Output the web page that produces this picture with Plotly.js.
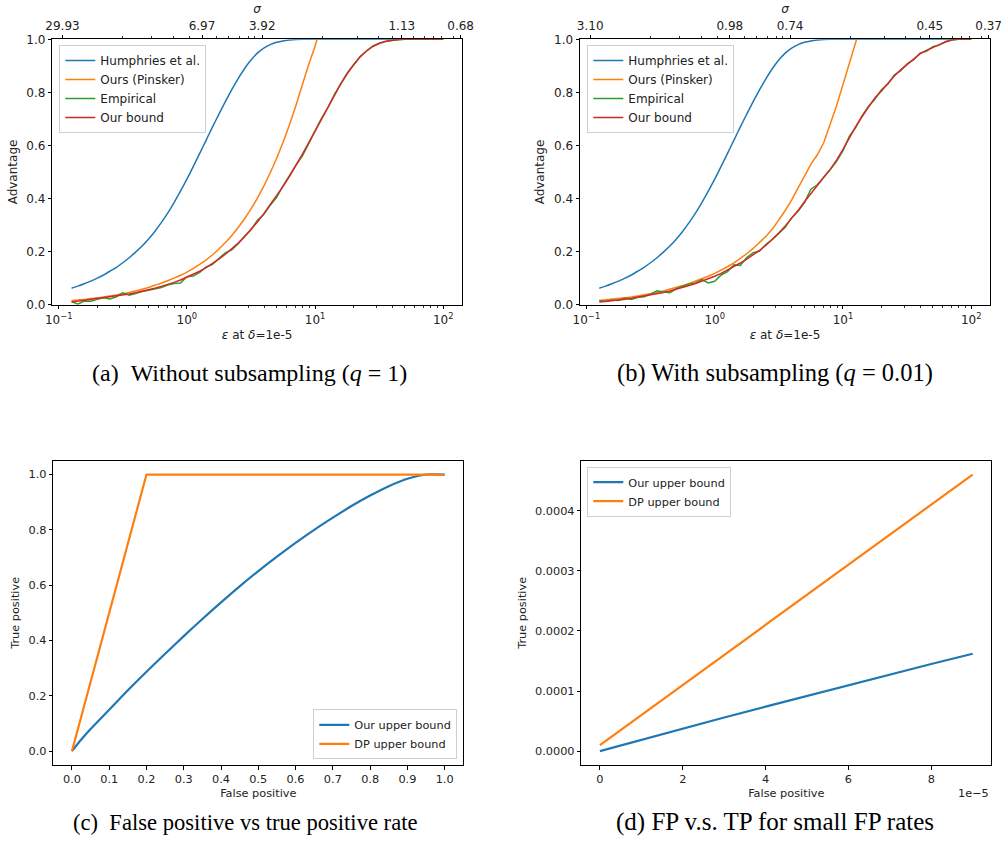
<!DOCTYPE html>
<html>
<head>
<meta charset="utf-8">
<script src="https://cdn.plot.ly/plotly-3.0.1.min.js"></script>
<style>html,body{margin:0;padding:0;background:#fff;}#chart{width:1003px;height:844px;}</style>
</head>
<body>
<div id="chart"></div>
<script>
// ---------- data: panels (a) and (b) ----------
const eps = [0.126,0.141,0.158,0.178,0.2,0.224,0.251,0.282,0.316,0.355,0.398,0.447,0.501,0.562,0.631,0.708,0.794,0.891,1.0,1.122,1.259,1.413,1.585,1.778,1.995,2.239,2.512,2.818,3.162,3.548,3.981,4.467,5.012,5.623,6.31,7.079,7.943,8.913,10,11.22,12.59,14.13,15.85,17.78,19.95,22.39,25.12,28.18,31.62,35.48,39.81,44.67,50.12,56.23,63.1,70.79,79.43,89.13,100];

const humphriesA = [0.062,0.070,0.079,0.089,0.100,0.112,0.126,0.141,0.158,0.177,0.198,0.221,0.247,0.276,0.309,0.345,0.385,0.428,0.473,0.521,0.570,0.620,0.670,0.718,0.765,0.810,0.852,0.890,0.922,0.948,0.967,0.980,0.989,0.994,0.997,0.999,1,1,1,1,1,1,1,1,1,1,1,1,1,1,1,1,1,1,1,1,1,1,1];
const pinskerA = [0.016,0.018,0.020,0.023,0.026,0.029,0.033,0.037,0.041,0.046,0.052,0.058,0.065,0.073,0.081,0.090,0.100,0.111,0.123,0.137,0.152,0.169,0.188,0.210,0.234,0.261,0.291,0.324,0.361,0.402,0.447,0.497,0.552,0.612,0.678,0.750,0.828,0.905,0.975,1.06];
const empiricalA = [0.012,0.002,0.014,0.013,0.020,0.026,0.022,0.030,0.045,0.036,0.042,0.050,0.054,0.060,0.065,0.074,0.080,0.082,0.105,0.108,0.122,0.142,0.152,0.175,0.195,0.207,0.230,0.258,0.282,0.318,0.340,0.375,0.405,0.448,0.488,0.525,0.560,0.605,0.655,0.702,0.743,0.792,0.830,0.872,0.903,0.934,0.955,0.974,0.984,0.993,0.996,0.999,1,1,1,1,1,1,1];
const boundA = [0.010,0.013,0.016,0.019,0.022,0.025,0.028,0.032,0.036,0.040,0.045,0.050,0.056,0.062,0.069,0.076,0.084,0.093,0.103,0.114,0.126,0.140,0.155,0.172,0.190,0.210,0.232,0.256,0.283,0.312,0.343,0.376,0.410,0.446,0.484,0.524,0.566,0.610,0.655,0.700,0.745,0.790,0.832,0.870,0.904,0.933,0.956,0.973,0.985,0.992,0.996,0.999,1,1,1,1,1,1,1];

const humphriesB = [0.062,0.070,0.079,0.089,0.100,0.112,0.126,0.141,0.158,0.177,0.198,0.221,0.247,0.276,0.309,0.345,0.385,0.428,0.473,0.521,0.570,0.620,0.670,0.718,0.765,0.810,0.852,0.890,0.922,0.948,0.967,0.980,0.989,0.994,0.997,0.999,1,1,1,1,1,1,1,1,1,1,1,1,1,1,1,1,1,1,1,1,1,1,1];
const pinskerB = [0.016,0.018,0.020,0.023,0.026,0.029,0.033,0.037,0.041,0.046,0.052,0.058,0.065,0.072,0.080,0.088,0.097,0.107,0.118,0.130,0.143,0.158,0.174,0.192,0.212,0.234,0.258,0.285,0.318,0.355,0.395,0.440,0.490,0.530,0.565,0.610,0.680,0.750,0.830,0.910,0.990,1.07];
const empiricalB = [0.016,0.012,0.018,0.016,0.025,0.020,0.028,0.030,0.040,0.052,0.048,0.045,0.060,0.068,0.078,0.082,0.095,0.082,0.088,0.112,0.125,0.150,0.148,0.178,0.196,0.202,0.228,0.246,0.268,0.292,0.328,0.352,0.385,0.435,0.452,0.478,0.508,0.540,0.580,0.635,0.668,0.712,0.748,0.775,0.810,0.832,0.865,0.882,0.908,0.922,0.948,0.955,0.972,0.978,0.992,0.997,1,1,1];
const boundB = [0.010,0.012,0.015,0.018,0.021,0.024,0.028,0.032,0.036,0.041,0.046,0.052,0.058,0.065,0.072,0.080,0.088,0.097,0.107,0.118,0.130,0.143,0.157,0.172,0.188,0.205,0.224,0.246,0.270,0.297,0.325,0.355,0.388,0.420,0.450,0.480,0.510,0.545,0.585,0.630,0.672,0.710,0.745,0.780,0.805,0.835,0.862,0.885,0.905,0.925,0.945,0.958,0.970,0.980,0.990,0.998,1,1,1];

const epsTicks = [0.1, 1, 10, 100];
const epsTickText = ["10<sup>−1</sup>","10<sup>0</sup>","10<sup>1</sup>","10<sup>2</sup>"];
const sigmaTickEps = [0.107, 1.312, 3.87, 47.5, 136.5];
const sigmaLabelsA = ["29.93","6.97","3.92","1.13","0.68"];
const sigmaLabelsB = ["3.10","0.98","0.74","0.45","0.37"];
const sigmaMinorEps = [0.315,0.533,0.782,1.054,1.702,2.123,2.559,3.027,3.388,11.43,21.23,30.97,40.09,58.08,71.61,83.18,96.6,119.1];
const advTicks = [0,0.2,0.4,0.6,0.8,1.0];

// ---------- data: panels (c) and (d) ----------
const fpC = [0,0.025,0.05,0.1,0.15,0.2,0.25,0.3,0.35,0.4,0.45,0.5,0.55,0.6,0.65,0.7,0.75,0.8,0.85,0.9,0.95,1.0];
const ourC = [0,0.042,0.080,0.150,0.220,0.287,0.352,0.416,0.478,0.538,0.596,0.651,0.703,0.753,0.800,0.844,0.886,0.924,0.958,0.985,1.0,1.0];
const fpDpC = [0,0.2,1.0];
const dpC = [0.00001,1,1];
const fpTicksC = [0,0.1,0.2,0.3,0.4,0.5,0.6,0.7,0.8,0.9,1.0];
const tpTicksC = [0,0.2,0.4,0.6,0.8,1.0];

const fpD = [0,1e-5,2e-5,3e-5,4e-5,5e-5,6e-5,7e-5,8e-5,9e-5];
const ourD = [0,1.9e-5,3.75e-5,5.6e-5,7.4e-5,9.2e-5,1.1e-4,1.28e-4,1.45e-4,1.62e-4];
const dpD = [1.0e-5,6.0e-5,1.1e-4,1.6e-4,2.1e-4,2.6e-4,3.1e-4,3.6e-4,4.1e-4,4.6e-4];
const fpTicksD = [0,2e-5,4e-5,6e-5,8e-5];
const fpTickTextD = ["0","2","4","6","8"];
const tpTicksD = [0,0.0001,0.0002,0.0003,0.0004];

const captions = ["(a)\u00a0\u00a0Without subsampling (<i>q</i>\u00a0=\u00a01)", "(b) With subsampling (<i>q</i>\u00a0=\u00a00.01)",
                  "(c)\u00a0\u00a0False positive vs true positive rate", "(d) FP v.s. TP for small FP rates"];

// ---------- styling ----------
const FONT = "DejaVu Sans";
const C = {blue:"#1f77b4", orange:"#ff7f0e", green:"#2ca02c", red:"#d62728"};
const W = 1003, H = 844;
const px = v => v / W, py = v => 1 - v / H;

const minorLog = [];
[0.1,1,10].forEach(d => { for (let k=2;k<=9;k++) minorLog.push(d*k); });

function baseAxis(extra, fs) {
  return Object.assign({
    showline:true, linecolor:"#000", linewidth:1, mirror:true,
    ticks:"outside", ticklen:3.5, tickwidth:1, tickcolor:"#000",
    showgrid:false, zeroline:false, automargin:false,
    tickfont:{family:FONT, size:fs, color:"#222"}
  }, extra);
}

const traces = [];
function addLine(x, y, name, color, xa, ya, legend, width, smooth) {
  traces.push({type:"scatter", mode:"lines", x:x, y:y, name:name, xaxis:xa, yaxis:ya,
    legend:legend, showlegend:true, hoverinfo:"skip",
    line:{color:color, width:width, shape: smooth ? "spline" : "linear", smoothing: smooth ? 0.6 : 1}});
}
addLine(eps, humphriesA, "Humphries et al.", C.blue, "x", "y", "legend", 1.5, true);
addLine(eps, pinskerA, "Ours (Pinsker)", C.orange, "x", "y", "legend", 1.5, true);
addLine(eps, empiricalA, "Empirical", C.green, "x", "y", "legend", 1.5, false);
addLine(eps, boundA, "Our bound", C.red, "x", "y", "legend", 1.5, false);
addLine(eps, humphriesB, "Humphries et al.", C.blue, "x2", "y2", "legend2", 1.5, true);
addLine(eps, pinskerB, "Ours (Pinsker)", C.orange, "x2", "y2", "legend2", 1.5, false);
addLine(eps, empiricalB, "Empirical", C.green, "x2", "y2", "legend2", 1.5, false);
addLine(eps, boundB, "Our bound", C.red, "x2", "y2", "legend2", 1.5, false);
addLine(fpC, ourC, "Our upper bound", C.blue, "x3", "y3", "legend3", 2.2, true);
addLine(fpDpC, dpC, "DP upper bound", C.orange, "x3", "y3", "legend3", 2.2, false);
addLine(fpD, ourD, "Our upper bound", C.blue, "x4", "y4", "legend4", 2.2, false);
addLine(fpD, dpD, "DP upper bound", C.orange, "x4", "y4", "legend4", 2.2, false);
// invisible carriers for the top sigma axes
traces.push({type:"scatter", mode:"lines", x:sigmaTickEps, y:[0,0,0,0,0], xaxis:"x5", yaxis:"y", showlegend:false, hoverinfo:"skip", line:{width:0}, opacity:0});
traces.push({type:"scatter", mode:"lines", x:sigmaTickEps, y:[0,0,0,0,0], xaxis:"x6", yaxis:"y2", showlegend:false, hoverinfo:"skip", line:{width:0}, opacity:0});

const domA = [px(52.3), px(462)], domB = [px(580), px(990)];
const domTop = [py(304.7), py(39.3)];
const domC = [px(53.3), px(463.3)], domD = [px(581.3), px(991.3)];
const domBot = [py(765), py(460.7)];
const logRange = [-1.05, 2.146];

function epsAxis(dom) {
  return baseAxis({domain:dom, type:"log", range:logRange, tickmode:"array", tickvals:epsTicks, ticktext:epsTickText,
    minor:{tickmode:"array", tickvals:minorLog, ticks:"outside", ticklen:2, tickwidth:0.8, tickcolor:"#000", showgrid:false},
    title:{text:"<i>ε</i> at <i>δ</i>=1e-5", font:{family:FONT, size:12, color:"#222"}, standoff:5}}, 12);
}
function sigmaAxis(dom, labels, anchor, over) {
  return baseAxis({domain:dom, type:"log", range:logRange, overlaying:over, anchor:anchor, side:"top", showline:false,
    tickmode:"array", tickvals:sigmaTickEps, ticktext:labels,
    minor:{tickmode:"array", tickvals:sigmaMinorEps, ticks:"outside", ticklen:2, tickwidth:0.8, tickcolor:"#000", showgrid:false},
    title:{text:"<i>σ</i>", font:{family:FONT, size:12, color:"#222"}, standoff:2}}, 12);
}
function advAxis(dom, anchor) {
  return baseAxis({domain:dom, anchor:anchor, range:[0,1], tickmode:"array", tickvals:advTicks, tickformat:".1f",
    title:{text:"Advantage", font:{family:FONT, size:12, color:"#222"}, standoff:6}}, 12);
}
function legendBox(x, y, xa, ya, fs) {
  return {x:x, y:y, xanchor:xa, yanchor:ya, xref:"paper", yref:"paper",
    bgcolor:"rgba(255,255,255,0.8)", bordercolor:"#d0d0d0", borderwidth:1,
    font:{family:FONT, size:fs, color:"#222"}, tracegroupgap:0, itemwidth:30};
}

const capFont = s => ({family:"Liberation Serif", size:s, color:"#000"});
const annotations = [
  {text:captions[0], x:px(249), y:py(373), xref:"paper", yref:"paper", showarrow:false, font:capFont(24), xanchor:"center", yanchor:"middle"},
  {text:captions[1], x:px(775), y:py(373), xref:"paper", yref:"paper", showarrow:false, font:capFont(24.5), xanchor:"center", yanchor:"middle"},
  {text:captions[2], x:px(245), y:py(822), xref:"paper", yref:"paper", showarrow:false, font:capFont(22.6), xanchor:"center", yanchor:"middle"},
  {text:captions[3], x:px(775), y:py(822), xref:"paper", yref:"paper", showarrow:false, font:capFont(25), xanchor:"center", yanchor:"middle"},
  {text:"1e−5", x:px(991), y:py(793), xref:"paper", yref:"paper", showarrow:false, xanchor:"right", yanchor:"middle",
   font:{family:FONT, size:11.3, color:"#222"}}
];

const layout = {
  width:W, height:H, margin:{l:0,r:0,t:0,b:0}, paper_bgcolor:"#fff", plot_bgcolor:"#fff",
  font:{family:FONT, color:"#222"},
  xaxis: epsAxis(domA), yaxis: advAxis(domTop, "x"),
  xaxis2: Object.assign(epsAxis(domB), {anchor:"y2"}), yaxis2: advAxis(domTop, "x2"),
  xaxis5: sigmaAxis(domA, sigmaLabelsA, "y", "x"),
  xaxis6: sigmaAxis(domB, sigmaLabelsB, "y2", "x2"),
  xaxis3: baseAxis({domain:domC, anchor:"y3", range:[-0.05,1.05], tickmode:"array", tickvals:fpTicksC, tickformat:".1f",
    title:{text:"False positive", font:{family:FONT, size:11.3, color:"#222"}, standoff:4}}, 11.3),
  yaxis3: baseAxis({domain:domBot, anchor:"x3", range:[-0.05,1.05], tickmode:"array", tickvals:tpTicksC, tickformat:".1f",
    title:{text:"True positive", font:{family:FONT, size:11.3, color:"#222"}, standoff:6}}, 11.3),
  xaxis4: baseAxis({domain:domD, anchor:"y4", range:[-0.45e-5,9.45e-5], tickmode:"array", tickvals:fpTicksD, ticktext:fpTickTextD,
    title:{text:"False positive", font:{family:FONT, size:11.3, color:"#222"}, standoff:4}}, 11.3),
  yaxis4: baseAxis({domain:domBot, anchor:"x4", range:[-2.3e-5,4.83e-4], tickmode:"array", tickvals:tpTicksD, tickformat:".4f",
    title:{text:"True positive", font:{family:FONT, size:11.3, color:"#222"}, standoff:6}}, 11.3),
  legend: legendBox(px(59.3), py(45), "left", "top", 12),
  legend2: legendBox(px(587.3), py(45), "left", "top", 12),
  legend3: legendBox(px(457.3), py(759.3), "right", "bottom", 11.3),
  legend4: legendBox(px(587.3), py(466.7), "left", "top", 11.3),
  annotations: annotations,
  showlegend:true
};

Plotly.newPlot("chart", traces, layout, {staticPlot:true, displayModeBar:false});
</script>
</body>
</html>
